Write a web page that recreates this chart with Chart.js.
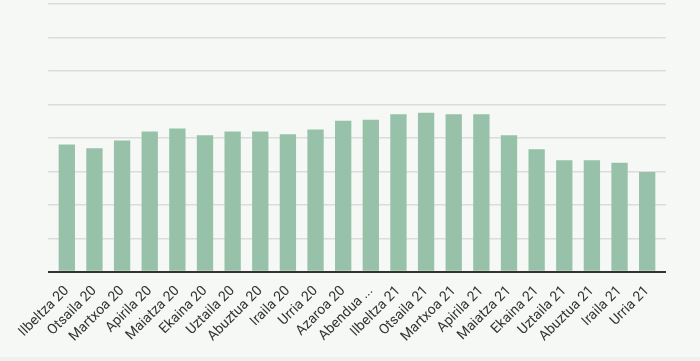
<!DOCTYPE html>
<html>
<head>
<meta charset="utf-8">
<script src="https://cdn.jsdelivr.net/npm/chart.js@4/dist/chart.umd.min.js"></script>
<style>
  html, body { margin: 0; padding: 0; background: #eef2ef; }
  #wrap { width: 700px; height: 357px; position: relative; background: #f5f8f5; overflow: visible; }
  #c { position: absolute; left: 0; top: 0; }
</style>
</head>
<body>
<div id="wrap"><canvas id="c" width="700" height="361"></canvas></div>
<script>
const categories = ["Ilbeltza 20","Otsaila 20","Martxoa 20","Apirila 20","Maiatza 20","Ekaina 20","Uztaila 20","Abuztua 20","Iraila 20","Urria 20","Azaroa 20","Abendua ...","Ilbeltza 21","Otsaila 21","Martxoa 21","Apirila 21","Maiatza 21","Ekaina 21","Uztaila 21","Abuztua 21","Iraila 21","Urria 21"];
const values = [3.80,3.69,3.92,4.19,4.28,4.08,4.19,4.19,4.11,4.25,4.51,4.54,4.71,4.75,4.71,4.71,4.08,3.66,3.33,3.33,3.26,2.98];

const gridColor = (ctx) => (ctx.tick && ctx.tick.value === 0) ? '#333333' : '#dcdcdc';
const gridWidth = (ctx) => (ctx.tick && ctx.tick.value === 0) ? 2 : 1.5;

new Chart(document.getElementById('c'), {
  type: 'bar',
  data: {
    labels: categories,
    datasets: [{
      data: values,
      backgroundColor: '#97c1a9',
      borderWidth: 0,
      barPercentage: 0.59,
      categoryPercentage: 1.0
    }]
  },
  options: {
    responsive: false,
    animation: false,
    layout: { padding: { left: 48, right: 34, top: 4, bottom: 13 } },
    plugins: { legend: { display: false }, tooltip: { enabled: false } },
    scales: {
      x: {
        grid: { display: false },
        border: { display: false },
        ticks: {
          color: '#333333',
          font: { family: 'Roboto', size: 14 },
          minRotation: 45,
          maxRotation: 45,
          autoSkip: false
        }
      },
      y: {
        min: 0,
        max: 8,
        ticks: { display: false, stepSize: 1 },
        grid: { color: gridColor, lineWidth: gridWidth, drawTicks: true, tickLength: 5 },
        border: { display: false }
      },
      y2: {
        position: 'right',
        min: 0,
        max: 8,
        ticks: { display: false, stepSize: 1 },
        grid: { color: gridColor, lineWidth: gridWidth, drawTicks: true, tickLength: 5, drawOnChartArea: false },
        border: { display: false }
      }
    }
  }
});
</script>
</body>
</html>
